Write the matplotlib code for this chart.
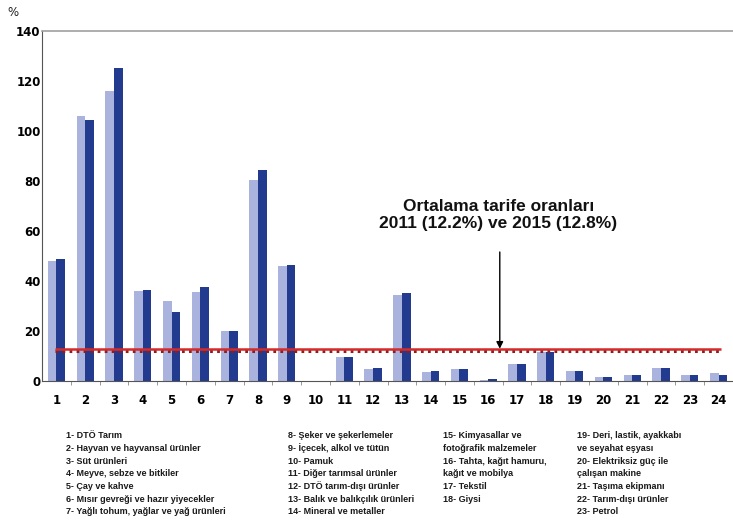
import matplotlib
matplotlib.use("Agg")
import matplotlib.pyplot as plt
from matplotlib import font_manager
import numpy as np

categories = [str(i) for i in range(1, 25)]
values_2011 = [48, 106, 116, 36, 32, 35.7, 20, 80.4, 46.1, 0, 9.7, 5.0,
               34.4, 3.7, 4.7, 0.6, 6.7, 11.5, 4.1, 1.6, 2.4, 5.1, 2.3, 3.3]
values_2015 = [49, 104.4, 125.2, 36.4, 27.7, 37.5, 20, 84.4, 46.4, 0, 9.7, 5.4,
               35.1, 4.1, 4.7, 0.9, 6.7, 11.5, 4.1, 1.5, 2.4, 5.1, 2.3, 2.4]
avg_2011 = 12.2
avg_2015 = 12.8
yticks = [0, 20, 40, 60, 80, 100, 120, 140]
title_lines = ["Ortalama tarife oranları", "2011 (12.2%) ve 2015 (12.8%)"]

legend_cols = [
    ["1- DTÖ Tarım", "2- Hayvan ve hayvansal ürünler", "3- Süt ürünleri",
     "4- Meyve, sebze ve bitkiler", "5- Çay ve kahve",
     "6- Mısır gevreği ve hazır yiyecekler",
     "7- Yağlı tohum, yağlar ve yağ ürünleri"],
    ["8- Şeker ve şekerlemeler", "9- İçecek, alkol ve tütün", "10- Pamuk",
     "11- Diğer tarımsal ürünler", "12- DTÖ tarım-dışı ürünler",
     "13- Balık ve balıkçılık ürünleri", "14- Mineral ve metaller"],
    ["15- Kimyasallar ve", "fotoğrafik malzemeler", "16- Tahta, kağıt hamuru,",
     "kağıt ve mobilya", "17- Tekstil", "18- Giysi"],
    ["19- Deri, lastik, ayakkabı", "ve seyahat eşyası", "20- Elektriksiz güç ile",
     "çalışan makine", "21- Taşıma ekipmanı", "22- Tarım-dışı ürünler",
     "23- Petrol"],
]

names = {f.name for f in font_manager.fontManager.ttflist}
if "Liberation Sans Narrow" in names:
    leg_family, leg_size, leg_weight = "Liberation Sans Narrow", 7.4, "bold"
else:
    leg_family, leg_size, leg_weight = "Liberation Sans", 6.5, "bold"

W, H = 733, 522
fig = plt.figure(figsize=(W / 100, H / 100), dpi=100)
ax = fig.add_axes([42 / W, 1 - 381 / H, (733 - 42) / W, (381 - 31) / H])

x = np.arange(1, 25)
bw = 0.3
ax.bar(x - 0.15, values_2011, width=bw, color="#a9b3de", zorder=2)
ax.bar(x + 0.15, values_2015, width=bw, color="#223b8f", zorder=2)

ax.hlines(avg_2011, 0.95, 24.1, colors="#8a1f1f", linewidth=2.2,
          linestyles=(0, (0.9, 1.4)), zorder=3)
ax.hlines(avg_2015, 0.95, 24.1, colors="#d42a2a", linewidth=1.8, zorder=4)

ax.annotate("", xy=(16.4, 12.9), xytext=(16.4, 51.6),
            arrowprops=dict(arrowstyle="-|>", color="black", lw=1.0,
                            mutation_scale=10, shrinkA=0, shrinkB=0), zorder=5)
ax.text(16.35, 69.7, title_lines[0], ha="center", va="center",
        fontsize=12.5, family="Liberation Sans", fontweight="bold", color="#111111")
ax.text(16.35, 63.0, title_lines[1], ha="center", va="center",
        fontsize=12.5, family="Liberation Sans", fontweight="bold", color="#111111")

ax.set_xlim(0.5, 24.5)
ax.set_ylim(0, 140)
ax.set_yticks(yticks)
ax.set_yticklabels([str(v) for v in yticks], fontsize=8.5, fontweight="bold",
                   family="DejaVu Sans")
ax.set_xticks(x)
ax.set_xticklabels(categories, fontsize=8.5, fontweight="bold", family="DejaVu Sans")
ax.set_xticks(np.arange(1.5, 24.5, 1), minor=True)
ax.tick_params(axis="x", which="major", length=0, pad=9)
ax.tick_params(axis="x", which="minor", length=3, color="#888888")
ax.tick_params(axis="y", which="major", length=0, pad=1)

ax.spines["right"].set_visible(False)
ax.spines["top"].set_color("#a0a0a0")
ax.spines["top"].set_linewidth(1.2)
ax.spines["left"].set_color("#555555")
ax.spines["bottom"].set_color("#555555")

fig.text(7 / W, 1 - 12.7 / H, "%", fontsize=8.5, family="DejaVu Sans",
         ha="left", va="center", color="#222222")

col_x = [66.5, 288, 443, 577]
row0 = 435.7
step = 12.7
for cx, lines in zip(col_x, legend_cols):
    for i, t in enumerate(lines):
        fig.text(cx / W, 1 - (row0 + i * step) / H, t, fontsize=leg_size,
                 family=leg_family, fontweight=leg_weight, ha="left",
                 va="center", color="#1a1a1a")

fig.savefig("out.png", dpi=100)
